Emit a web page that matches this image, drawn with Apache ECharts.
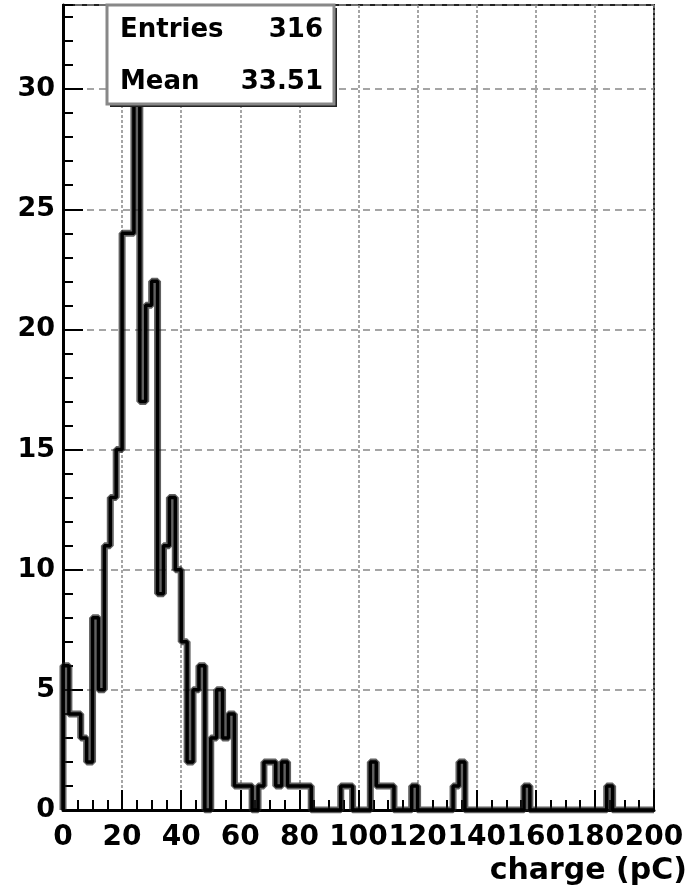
<!DOCTYPE html>
<html>
<head>
<meta charset="utf-8">
<script src="https://cdn.jsdelivr.net/npm/echarts@6/dist/echarts.min.js"></script>
<style>
  html, body { margin: 0; padding: 0; background: #fff; }
  #chart { width: 696px; height: 889px; }
</style>
</head>
<body>
<div id="chart"></div>
<script>
// histogram: 100 bins of 2 pC from 0 to 200
const binWidth = 2
const counts = [
  6, 4, 4, 3, 2, 8, 5, 11, 13, 15,
  24, 24, 31, 17, 21, 22, 9, 11, 13, 10,
  7, 2, 5, 6, 0, 3, 5, 3, 4, 1,
  1, 1, 0, 1, 2, 2, 1, 2, 1, 1,
  1, 1, 0, 0, 0, 0, 0, 1, 1, 0,
  0, 0, 2, 1, 1, 1, 0, 0, 0, 1,
  0, 0, 0, 0, 0, 0, 1, 2, 0, 0,
  0, 0, 0, 0, 0, 0, 0, 0, 1, 0,
  0, 0, 0, 0, 0, 0, 0, 0, 0, 0,
  0, 0, 1, 0, 0, 0, 0, 0, 0, 0
]
const statLabels = ['Entries', 'Mean']
const statValues = ['316', '33.51']
const xTitle = 'charge (pC)'

const font = '"DejaVu Sans", sans-serif'

// step points: start at baseline, one point per bin low edge, close at the top edge
const steps = [[0, 0]]
counts.forEach((c, i) => steps.push([i * binWidth, c]))
steps.push([counts.length * binWidth, counts[counts.length - 1]])
steps.push([counts.length * binWidth, 0])

const chart = echarts.init(document.getElementById('chart'))

const labelStyle = { color: '#000', fontFamily: font, fontWeight: 'bold', fontSize: 27 }

chart.setOption({
  animation: false,
  grid: {
    left: 63, right: 42, top: 5, bottom: 79,
    show: true, borderColor: '#222', borderWidth: 2, backgroundColor: 'transparent'
  },
  title: {
    text: xTitle,
    right: 4, top: 851,
    textStyle: { ...labelStyle, fontSize: 30 }
  },
  xAxis: {
    type: 'value',
    min: 0, max: 200, interval: 20,
    axisLine: { lineStyle: { color: '#000', width: 3 } },
    axisTick: { inside: true, length: 20, lineStyle: { color: '#000', width: 2 } },
    minorTick: { show: true, splitNumber: 4, length: 10, lineStyle: { color: '#000', width: 2 } },
    axisLabel: { ...labelStyle, fontSize: 28, margin: 14, hideOverlap: false },
    splitLine: { show: true, lineStyle: { color: '#888', width: 1.5, type: [3, 2] } }
  },
  yAxis: [
    {
      type: 'value',
      min: 0, max: 33.5, interval: 5,
      axisLine: { show: true, lineStyle: { color: '#000', width: 3 } },
      axisTick: { inside: true, length: 20, lineStyle: { color: '#000', width: 2 } },
      axisLabel: { ...labelStyle, margin: 8, showMaxLabel: false },
      splitLine: { show: true, lineStyle: { color: '#888', width: 1.5, type: [7, 5] } }
    },
    {
      // unit ticks, sits on top of the main axis
      type: 'value', position: 'left',
      min: 0, max: 33.5, interval: 1,
      axisLine: { show: false },
      axisTick: { inside: true, length: 10, lineStyle: { color: '#000', width: 2 } },
      axisLabel: { show: false },
      splitLine: { show: false }
    }
  ],
  series: [
    {
      type: 'line', step: 'end', data: steps, symbol: 'none', z: 3,
      lineStyle: { color: 'rgba(30,30,30,0.7)', width: 7 }
    },
    {
      type: 'line', step: 'end', data: steps, symbol: 'none', z: 4,
      lineStyle: { color: '#000', width: 3.5 }
    }
  ],
  graphic: [
    { type: 'rect', z: 100, shape: { x: 110, y: 8, width: 227, height: 99 }, style: { fill: '#222' } },
    { type: 'rect', z: 101, shape: { x: 107, y: 5, width: 227, height: 99 },
      style: { fill: '#fff', stroke: '#888', lineWidth: 3 } },
    ...statLabels.map((t, i) => ({
      type: 'text', z: 102, left: 120, top: 17 + i * 52,
      style: { text: t, fill: '#000', font: 'bold 26px ' + font }
    })),
    ...statValues.map((t, i) => ({
      type: 'text', z: 102, right: 696 - 323, top: 17 + i * 52,
      style: { text: t, fill: '#000', font: 'bold 26px ' + font, align: 'right' }
    }))
  ]
})
</script>
</body>
</html>
